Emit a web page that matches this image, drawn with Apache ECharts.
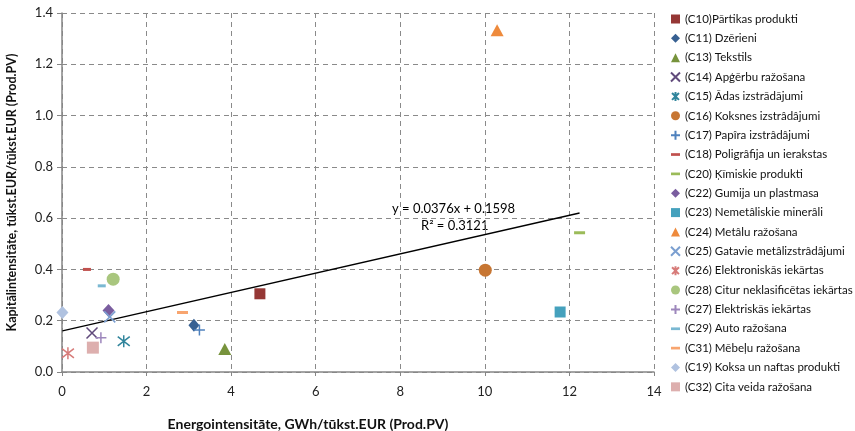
<!DOCTYPE html>
<html>
<head>
<meta charset="utf-8">
<script src="https://cdn.jsdelivr.net/npm/echarts@6/dist/echarts.min.js"></script>
<style>html,body{margin:0;padding:0;background:#fff}#c{width:855px;height:431px}</style>
</head>
<body>
<div id="c"></div>
<script>
// ---- data ----
const categories = [
  '(C10)Pārtikas produkti', '(C11) Dzērieni', '(C13) Tekstils', '(C14) Apģērbu ražošana',
  '(C15) Ādas izstrādājumi', '(C16) Koksnes izstrâdâjumi', '(C17) Papîra izstrâdâjumi',
  '(C18) Poligrâfija un ierakstas', '(C20) Ķīmiskie produkti', '(C22) Gumija un plastmasa',
  '(C23) Nemetâliskie minerâli', '(C24) Metâlu ražošana', '(C25) Gatavie metâlizstrâdâjumi',
  '(C26) Elektroniskās iekārtas', '(C28) Citur neklasificētas iekārtas', '(C27) Elektriskās iekārtas',
  '(C29) Auto ražošana', '(C31) Mēbeļu ražošana', '(C19) Koksa un naftas produkti', '(C32) Cita veida ražošana'
];
const xValues = [4.68, 3.12, 3.85, 0.71, 1.46, 10.01, 3.25, 0.59, 12.24, 1.10, 11.78, 10.29, 1.13, 0.14, 1.21, 0.92, 0.94, 2.85, 0.01, 0.73];
const yValues = [0.305, 0.182, 0.09, 0.152, 0.12, 0.397, 0.164, 0.40, 0.543, 0.24, 0.234, 1.333, 0.215, 0.073, 0.362, 0.134, 0.336, 0.232, 0.232, 0.095];
const trendSlope = 0.0376;
const trendIntercept = 0.1598;
const trendR2 = 0.3121;
const xTicks = [0, 2, 4, 6, 8, 10, 12, 14];
const yTicks = [0.0, 0.2, 0.4, 0.6, 0.8, 1.0, 1.2, 1.4];

// ---- styles ----
const P_X = 'path://M0,0L10,10M10,0L0,10';
const P_AST = 'path://M0,0L10,10M10,0L0,10M5,-1.5L5,11.5';
const P_PLUS = 'path://M5,0L5,10M0,5L10,5';
const P_DASH = 'path://M0,0L10,0L10,3L0,3Z';
const styles = [
  {c:'#953735', s:'rect', z:11},
  {c:'#376092', s:'diamond', z:[11,13]},
  {c:'#77933C', s:'triangle', z:[13,12]},
  {c:'#604A7B', s:P_X, z:11, line:true},
  {c:'#31859C', s:P_AST, z:12, line:true},
  {c:'#C77633', s:'circle', z:13},
  {c:'#4F81BD', s:P_PLUS, z:11, line:true},
  {c:'#C0504D', s:'rect', z:[8,3], icon:P_DASH},
  {c:'#9BBB59', s:'rect', z:[11,3], icon:P_DASH},
  {c:'#7A5D9F', s:'diamond', z:[12,13]},
  {c:'#45A1BD', s:'rect', z:11},
  {c:'#EE8A3C', s:'triangle', z:[13,12]},
  {c:'#7B9FD0', s:P_X, z:11, line:true},
  {c:'#D77B79', s:P_AST, z:12, line:true},
  {c:'#A9C67E', s:'circle', z:13},
  {c:'#9D87BC', s:P_PLUS, z:11, line:true},
  {c:'#7AB8D2', s:'rect', z:[8,3], icon:P_DASH},
  {c:'#F8A56F', s:'rect', z:[11,3], icon:P_DASH},
  {c:'#B0C2E0', s:'diamond', z:[12,13]},
  {c:'#DDAFAE', s:'rect', z:12}
];

const FONT = 'Lato, "Open Sans", sans-serif';
const series = categories.map((name, i) => {
  const st = styles[i];
  return {
    name: name,
    type: 'scatter',
    symbol: st.s,
    symbolSize: st.z,
    data: [[xValues[i], yValues[i]]],
    itemStyle: st.line
      ? {color: st.c, borderColor: st.c, borderWidth: 1.5, opacity: 1}
      : {color: st.c, opacity: 1},
    z: 3
  };
});
const xMin = Math.min(...xValues), xMax = Math.max(...xValues);
series.push({
  name: 'trend', type: 'line', symbol: 'none', silent: true,
  data: [[xMin, trendIntercept + trendSlope * xMin], [xMax, trendIntercept + trendSlope * xMax]],
  lineStyle: {color: '#000', width: 1.3}, z: 2
});

const legendData = categories.map((name, i) => {
  const st = styles[i];
  const d = {name: name};
  if (st.icon) d.icon = st.icon;
  return d;
});

const chart = echarts.init(document.getElementById('c'), null, {renderer: 'canvas'});
chart.setOption({
  animation: false,
  backgroundColor: '#fff',
  grid: {left: 62, top: 13, width: 592, height: 359, containLabel: false, outerBoundsMode: 'none'},
  xAxis: {
    type: 'value', min: 0, max: 14, interval: 2,
    name: 'Energointensitāte, GWh/tūkst.EUR (Prod.PV)',
    nameLocation: 'middle', nameGap: 45,
    nameTextStyle: {fontFamily: FONT, fontWeight: 'bold', fontSize: 14, color: '#111', padding: [0, 100, 0, 0]},
    axisLine: {show: true, lineStyle: {color: '#868686', width: 1.5}},
    axisTick: {show: true, length: 4, lineStyle: {color: '#868686'}},
    axisLabel: {fontFamily: FONT, fontSize: 13, color: '#222', margin: 13,
      formatter: v => xTicks.includes(v) ? String(v) : ''},
    splitLine: {show: true, lineStyle: {color: '#8a8a8a', type: [5, 4], width: 1}}
  },
  yAxis: {
    type: 'value', min: 0, max: 1.4, interval: 0.2,
    name: 'Kapitālintensitāte, tūkst.EUR/tūkst.EUR (Prod.PV)',
    nameLocation: 'middle', nameGap: 44,
    nameTextStyle: {fontFamily: FONT, fontWeight: 'bold', fontSize: 12.5, color: '#111'},
    axisLine: {show: true, lineStyle: {color: '#868686', width: 1.5}},
    axisTick: {show: true, length: 5, lineStyle: {color: '#868686'}},
    axisLabel: {fontFamily: FONT, fontSize: 13, color: '#222', margin: 9,
      formatter: v => { const t = yTicks.find(y => Math.abs(y - v) < 1e-9); return t === undefined ? '' : t.toFixed(1); }},
    splitLine: {show: true, lineStyle: {color: '#8a8a8a', type: [5, 4], width: 1}}
  },
  legend: {
    orient: 'vertical', left: 670, top: 13, padding: 0,
    itemWidth: 9, itemHeight: 9, itemGap: 7.36,
    data: legendData,
    textStyle: {fontFamily: FONT, fontSize: 11.5, color: '#111', lineHeight: 10},
    selectedMode: false
  },
  graphic: [
    {type: 'text', left: 392, top: 202, style: {text: 'y = ' + trendSlope + 'x + ' + trendIntercept, font: '13px ' + FONT, fill: '#000'}},
    {type: 'text', left: 421, top: 219, style: {text: 'R² = ' + trendR2, font: '13px ' + FONT, fill: '#000'}}
  ],
  series: series
});
</script>
</body>
</html>
